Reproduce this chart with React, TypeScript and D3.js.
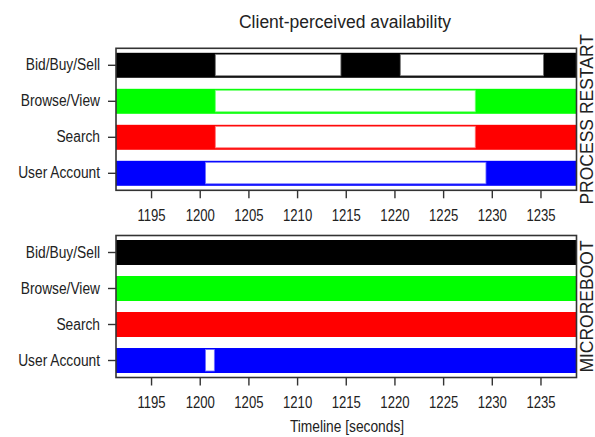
import { useEffect, useRef } from "react";
import * as d3 from "d3";

const services = ["Bid/Buy/Sell", "Browse/View", "Search", "User Account"];
const serviceColors = ["#000000", "#00ff00", "#ff0000", "#0000ff"];

// white gaps = seconds where the client saw the service as unavailable
const restartOutages: [number, number][][] = [
  [[1201.6, 1214.5], [1220.6, 1235.3]],
  [[1201.6, 1228.3]],
  [[1201.6, 1228.3]],
  [[1200.6, 1229.4]],
];
const microrebootOutages: [number, number][][] = [[], [], [], [[1200.6, 1201.5]]];

const xTicks = [1195, 1200, 1205, 1210, 1215, 1220, 1225, 1230, 1235];
const xDomain: [number, number] = [1191.4, 1238.7];

const W = 595;
const H = 437;
const sans = "'Liberation Sans', Arial, Helvetica, sans-serif";

// squeeze text horizontally, the original uses a narrow Helvetica
function narrowText(sel: d3.Selection<any, any, any, any>, k: number) {
  sel.each(function () {
    const t = this as SVGTextElement;
    const len = t.getComputedTextLength();
    d3.select(t).attr("textLength", len * k).attr("lengthAdjust", "spacingAndGlyphs");
  });
}

export default function App() {
  const ref = useRef<SVGSVGElement | null>(null);

  useEffect(() => {
    if (!ref.current) return;
    const svg = d3.select(ref.current);
    svg.selectAll("*").remove();

    const x = d3.scaleLinear().domain(xDomain).range([116, 576.5]);

    const panels = [
      { top: 48.3, bottom: 190.3, outages: restartOutages, label: "PROCESS RESTART" },
      { top: 235.5, bottom: 377.5, outages: microrebootOutages, label: "MICROREBOOT" },
    ];

    svg
      .append("text")
      .attr("x", 345)
      .attr("y", 28)
      .attr("text-anchor", "middle")
      .style("font", `17.5px ${sans}`)
      .attr("fill", "#222")
      .text("Client-perceived availability");

    panels.forEach((p) => {
      const y = d3
        .scaleBand<string>()
        .domain(services)
        .range([p.top, p.bottom])
        .paddingInner(0.306)
        .paddingOuter(0.125);
      const g = svg.append("g");

      // full coloured bars
      g.selectAll("rect.bar")
        .data(services)
        .join("rect")
        .attr("class", "bar")
        .attr("x", x(xDomain[0]))
        .attr("width", x(xDomain[1]) - x(xDomain[0]))
        .attr("y", (d) => y(d)!)
        .attr("height", y.bandwidth())
        .attr("fill", (_d, i) => serviceColors[i]);

      // outage gaps
      const gaps = p.outages.flatMap((list, i) =>
        list.map(([s, e]) => ({ s, e, name: services[i], color: serviceColors[i] }))
      );
      g.selectAll("rect.gap")
        .data(gaps)
        .join("rect")
        .attr("class", "gap")
        .attr("x", (d) => x(d.s))
        .attr("width", (d) => x(d.e) - x(d.s))
        .attr("y", (d) => y(d.name)! + 1.5)
        .attr("height", y.bandwidth() - 3.5)
        .attr("fill", "#fff")
        .attr("stroke", (d) => d3.interpolateRgb(d.color, "#fff")(0.45))
        .attr("stroke-width", 0.8);

      // frame
      g.append("rect")
        .attr("x", 116)
        .attr("y", p.top)
        .attr("width", 576.5 - 116)
        .attr("height", p.bottom - p.top)
        .attr("fill", "none")
        .attr("stroke", "#333")
        .attr("stroke-width", 1.6);

      // y axis
      const yAxis = g
        .append("g")
        .attr("transform", "translate(116,0)")
        .call(d3.axisLeft(y).tickSize(8).tickPadding(8));
      yAxis.select(".domain").remove();
      yAxis.selectAll("line").attr("stroke", "#333").attr("stroke-width", 1.4);
      const yLabels = yAxis
        .selectAll("text")
        .attr("fill", "#222")
        .style("font", `16px ${sans}`);
      narrowText(yLabels, 0.86);

      // x axis
      const xAxis = g
        .append("g")
        .attr("transform", `translate(0,${p.bottom})`)
        .call(
          d3
            .axisBottom(x)
            .tickValues(xTicks)
            .tickFormat(d3.format("d"))
            .tickSize(8)
            .tickPadding(11)
        );
      xAxis.select(".domain").remove();
      xAxis.selectAll("line").attr("stroke", "#333").attr("stroke-width", 1.4);
      const xLabels = xAxis
        .selectAll("text")
        .attr("fill", "#222")
        .style("font", `16px ${sans}`);
      narrowText(xLabels, 0.82);

      // side label
      svg
        .append("text")
        .attr("transform", `translate(592.5,${(p.top + p.bottom) / 2}) rotate(-90)`)
        .attr("text-anchor", "middle")
        .style("font", `17.5px ${sans}`)
        .attr("fill", "#222")
        .text(p.label);
    });

    const xTitle = svg
      .append("text")
      .attr("x", 347)
      .attr("y", 432)
      .attr("text-anchor", "middle")
      .style("font", `16px ${sans}`)
      .attr("fill", "#222")
      .text("Timeline [seconds]");
    narrowText(xTitle, 0.86);
  }, []);

  return (
    <svg
      ref={ref}
      width={W}
      height={H}
      style={{ position: "absolute", left: 0, top: 0, background: "#fff" }}
    />
  );
}
